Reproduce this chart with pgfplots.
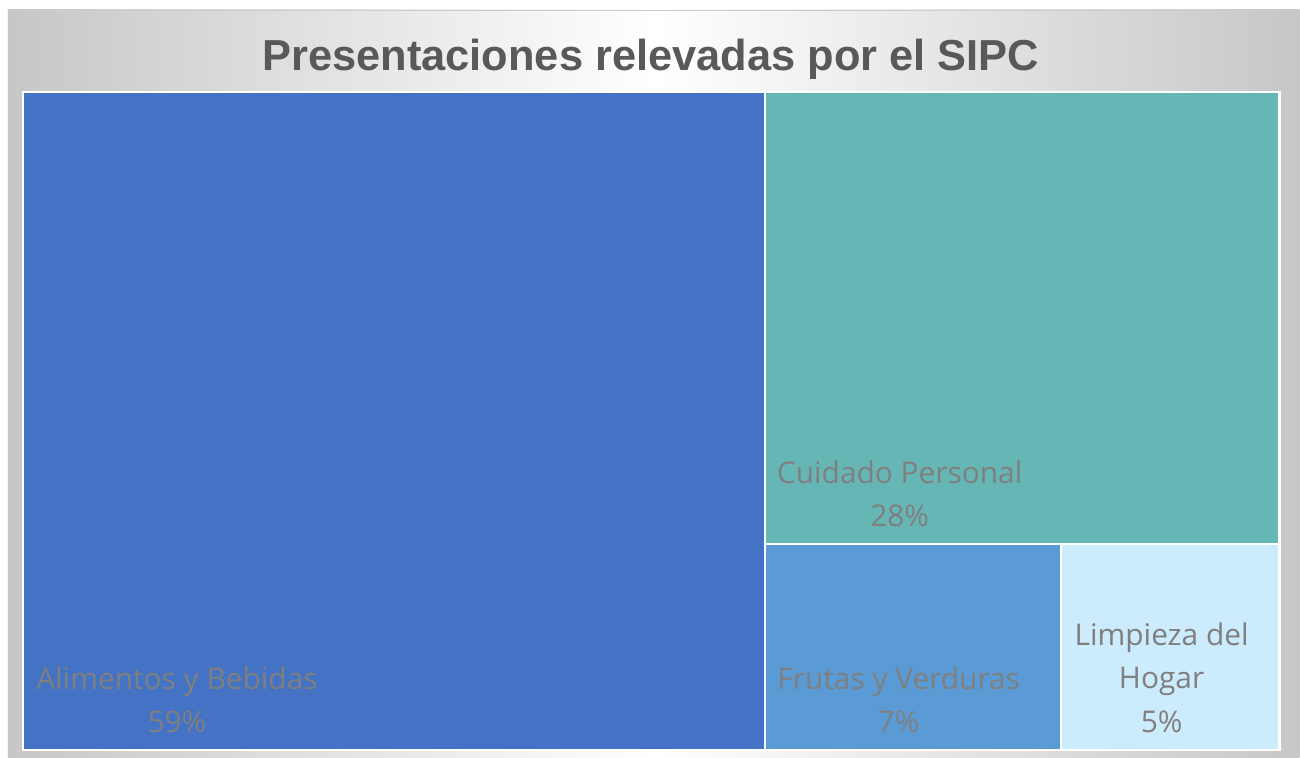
\documentclass[border=0pt]{standalone}
\usepackage{pgfplots}
\pgfplotsset{compat=1.18}
\usepackage{fontspec}
\setmainfont{Open Sans}
\newfontfamily\titlefont{Liberation Sans}
\definecolor{cAli}{HTML}{4472C4}
\definecolor{cCui}{HTML}{67B6B6}
\definecolor{cFru}{HTML}{5B9BD5}
\definecolor{cLim}{HTML}{CCEBFC}
\definecolor{lblgray}{HTML}{7F7F7F}
\definecolor{titlegray}{HTML}{595959}
\begin{document}
\begin{tikzpicture}
\fill[white] (0,0) rectangle (26cm,15.16cm);
\shade[left color=black!22, right color=black!22, middle color=white] (0.16cm,0) rectangle (26cm,14.96cm);
\draw[black!20, line width=0.5pt] (0.16cm,14.96cm) -- (26cm,14.96cm);
\node[font=\titlefont\bfseries\fontsize{24.7}{30}\selectfont, text=titlegray, anchor=base] at (13.02cm,13.74cm) {Presentaciones relevadas por el SIPC};
\begin{axis}[
  at={(0.46cm,0.16cm)}, anchor=south west,
  scale only axis, width=25.14cm, height=13.16cm,
  xmin=0, xmax=1257, ymin=0, ymax=658,
  hide axis, clip=false,
]
\addplot[fill=cAli, draw=white, line width=1.3pt] coordinates {(0,0) (742,0) (742,658) (0,658)} -- cycle;
\addplot[fill=cCui, draw=white, line width=1.3pt] coordinates {(742,206) (1257,206) (1257,658) (742,658)} -- cycle;
\addplot[fill=cFru, draw=white, line width=1.3pt] coordinates {(742,0) (1038,0) (1038,206) (742,206)} -- cycle;
\addplot[fill=cLim, draw=white, line width=1.3pt] coordinates {(1038,0) (1257,0) (1257,206) (1038,206)} -- cycle;
\node[align=center, text=lblgray, font=\fontsize{17}{24.5}\selectfont] at (axis cs:154,50) {Alimentos y Bebidas\\59\%};
\node[align=center, text=lblgray, font=\fontsize{17}{24.5}\selectfont] at (axis cs:877,256) {Cuidado Personal\\28\%};
\node[align=center, text=lblgray, font=\fontsize{17}{24.5}\selectfont] at (axis cs:876,50) {Frutas y Verduras\\7\%};
\node[align=center, text=lblgray, font=\fontsize{17}{24.5}\selectfont] at (axis cs:1139,72) {Limpieza del\\Hogar\\5\%};
\end{axis}
\end{tikzpicture}
\end{document}
